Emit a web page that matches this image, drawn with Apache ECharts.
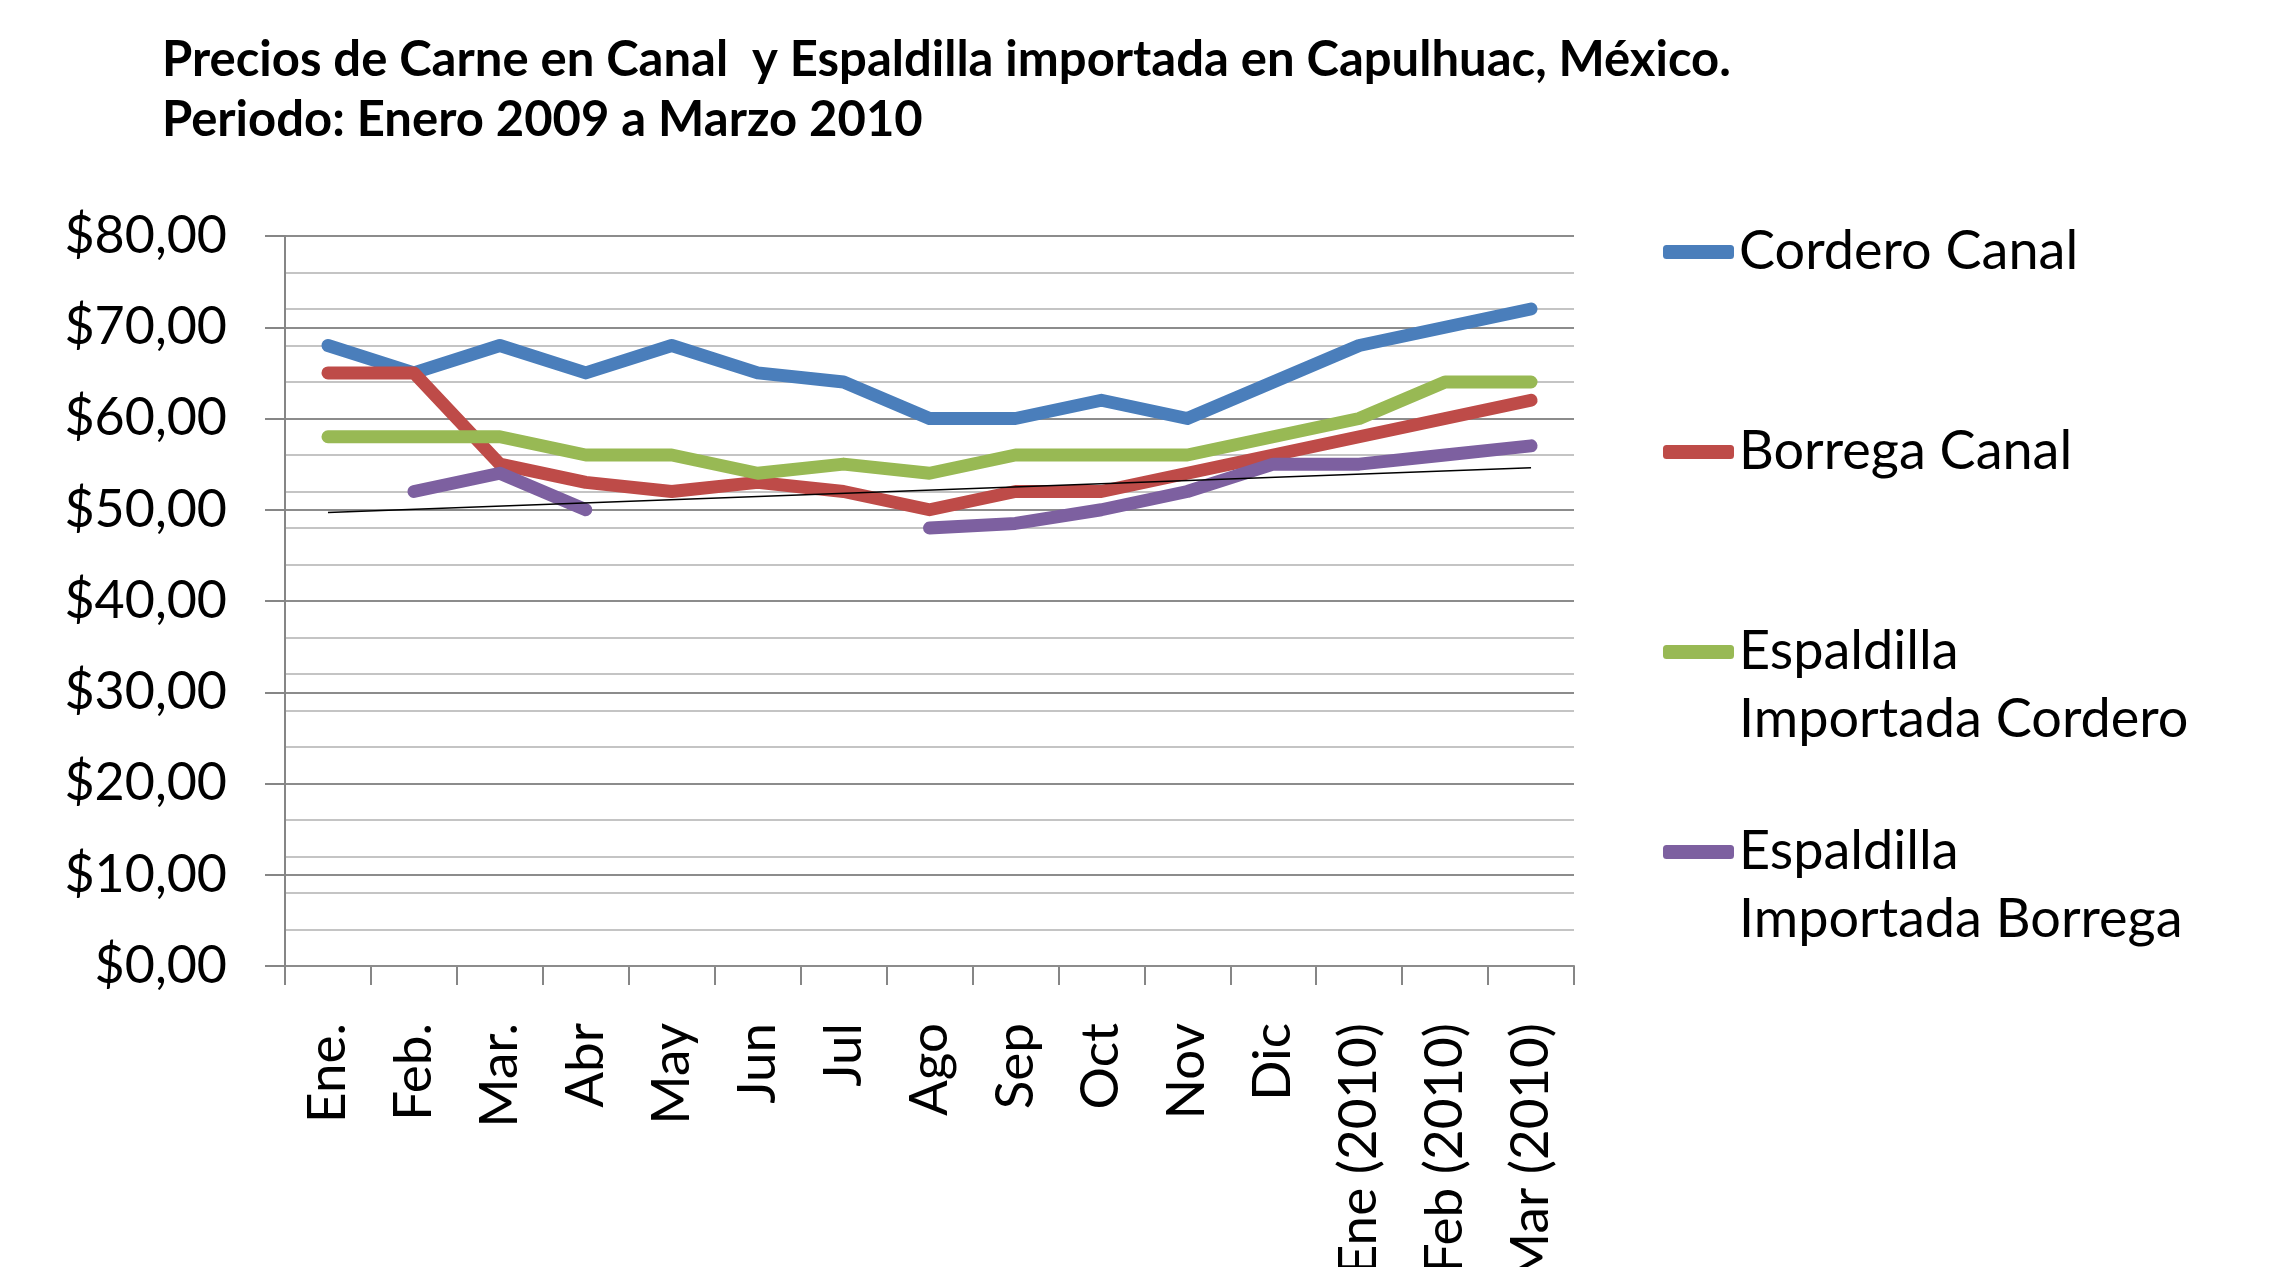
<!DOCTYPE html>
<html>
<head>
<meta charset="utf-8">
<title>Precios de Carne en Canal</title>
<script src="https://cdn.jsdelivr.net/npm/echarts@6/dist/echarts.min.js"></script>
<style>
  html, body { margin: 0; padding: 0; background: #fff; }
  #chart { width: 2271px; height: 1267px; }
</style>
</head>
<body>
<div id="chart"></div>
<script>
var months = ['Ene.', 'Feb.', 'Mar.', 'Abr', 'May', 'Jun', 'Jul', 'Ago', 'Sep', 'Oct', 'Nov', 'Dic',
  'Ene (2010)', 'Feb (2010)', 'Mar (2010)']

var corderoCanal = [68, 65, 68, 65, 68, 65, 64, 60, 60, 62, 60, 64, 68, 70, 72]
var borregaCanal = [65, 65, 55, 53, 52, 53, 52, 50, 52, 52, 54, 56, 58, 60, 62]
var espCordero = [58, 58, 58, 56, 56, 54, 55, 54, 56, 56, 56, 58, 60, 64, 64]
var espBorrega = [null, 52, 54, 50, null, null, null, 48, 48.5, 50, 52, 55, 55, 56, 57]
// linear trend line, only its two ends
var trend = [49.7, null, null, null, null, null, null, null, null, null, null, null, null, null, 54.6]

var names = ['Cordero Canal', 'Borrega Canal', 'Espaldilla Importada Cordero', 'Espaldilla Importada Borrega']
var legendText = {
  'Cordero Canal': '\nCordero Canal\n ',
  'Borrega Canal': '\nBorrega Canal\n ',
  'Espaldilla Importada Cordero': '\nEspaldilla\nImportada Cordero',
  'Espaldilla Importada Borrega': '\nEspaldilla\nImportada Borrega'
}
var colors = ['#4a7ebb', '#be4b48', '#98b954', '#7d60a0']

var font = 'Lato, "Open Sans", sans-serif'

function lineSeries (name, data, color) {
  return {
    name: name,
    type: 'line',
    data: data,
    symbol: 'none',
    color: color,
    lineStyle: { width: 13, color: color, cap: 'round', join: 'round' },
    z: 3
  }
}

var chart = echarts.init(document.getElementById('chart'))

chart.setOption({
  animation: false,
  backgroundColor: '#fff',
  title: {
    text: 'Precios de Carne en Canal  y Espaldilla importada en Capulhuac, México.\nPeriodo: Enero 2009 a Marzo 2010',
    left: 162,
    top: 30,
    padding: 0,
    textStyle: { fontFamily: font, fontWeight: 'bold', fontSize: 49, lineHeight: 60, color: '#000' }
  },
  legend: {
    orient: 'vertical',
    left: 1663,
    top: 150,
    padding: 0,
    itemGap: -4,
    itemWidth: 71,
    itemHeight: 14,
    icon: 'roundRect',
    data: names,
    formatter: function (n) { return legendText[n] },
    textStyle: { fontFamily: font, fontSize: 54, lineHeight: 68, color: '#000' }
  },
  grid: { left: 285, right: 697, top: 236, bottom: 301, outerBoundsMode: 'none', containLabel: false },
  xAxis: {
    type: 'category',
    data: months,
    boundaryGap: true,
    axisLine: { lineStyle: { color: '#868686', width: 2 } },
    axisTick: { show: true, length: 19, alignWithLabel: false, lineStyle: { color: '#868686', width: 2 } },
    axisLabel: { rotate: 90, margin: 57, interval: 0, fontFamily: font, fontSize: 53, color: '#000' },
    splitLine: { show: false }
  },
  yAxis: [{
    type: 'value',
    min: 0,
    max: 80,
    interval: 10,
    z: 1,
    axisLine: { show: true, lineStyle: { color: '#868686', width: 2 } },
    axisTick: { show: true, length: 20, lineStyle: { color: '#868686', width: 2 } },
    axisLabel: {
      margin: 58,
      fontFamily: font,
      fontSize: 52,
      color: '#000',
      formatter: function (v) { return '$' + v + ',00' }
    },
    splitLine: { lineStyle: { color: '#8c8c8c', width: 2 } }
  }, {
    type: 'value',
    min: 0,
    max: 80,
    interval: 4,
    z: 0,
    position: 'left',
    axisLine: { show: false },
    axisTick: { show: false },
    axisLabel: { show: false },
    splitLine: { lineStyle: { color: '#c4c4c4', width: 2 } }
  }],
  series: [
    lineSeries(names[0], corderoCanal, colors[0]),
    lineSeries(names[1], borregaCanal, colors[1]),
    lineSeries(names[2], espCordero, colors[2]),
    lineSeries(names[3], espBorrega, colors[3]),
    {
      name: 'Tendencia',
      type: 'line',
      data: trend,
      connectNulls: true,
      symbol: 'none',
      silent: true,
      lineStyle: { width: 1.5, color: '#000' },
      z: 4
    }
  ]
})
</script>
</body>
</html>
